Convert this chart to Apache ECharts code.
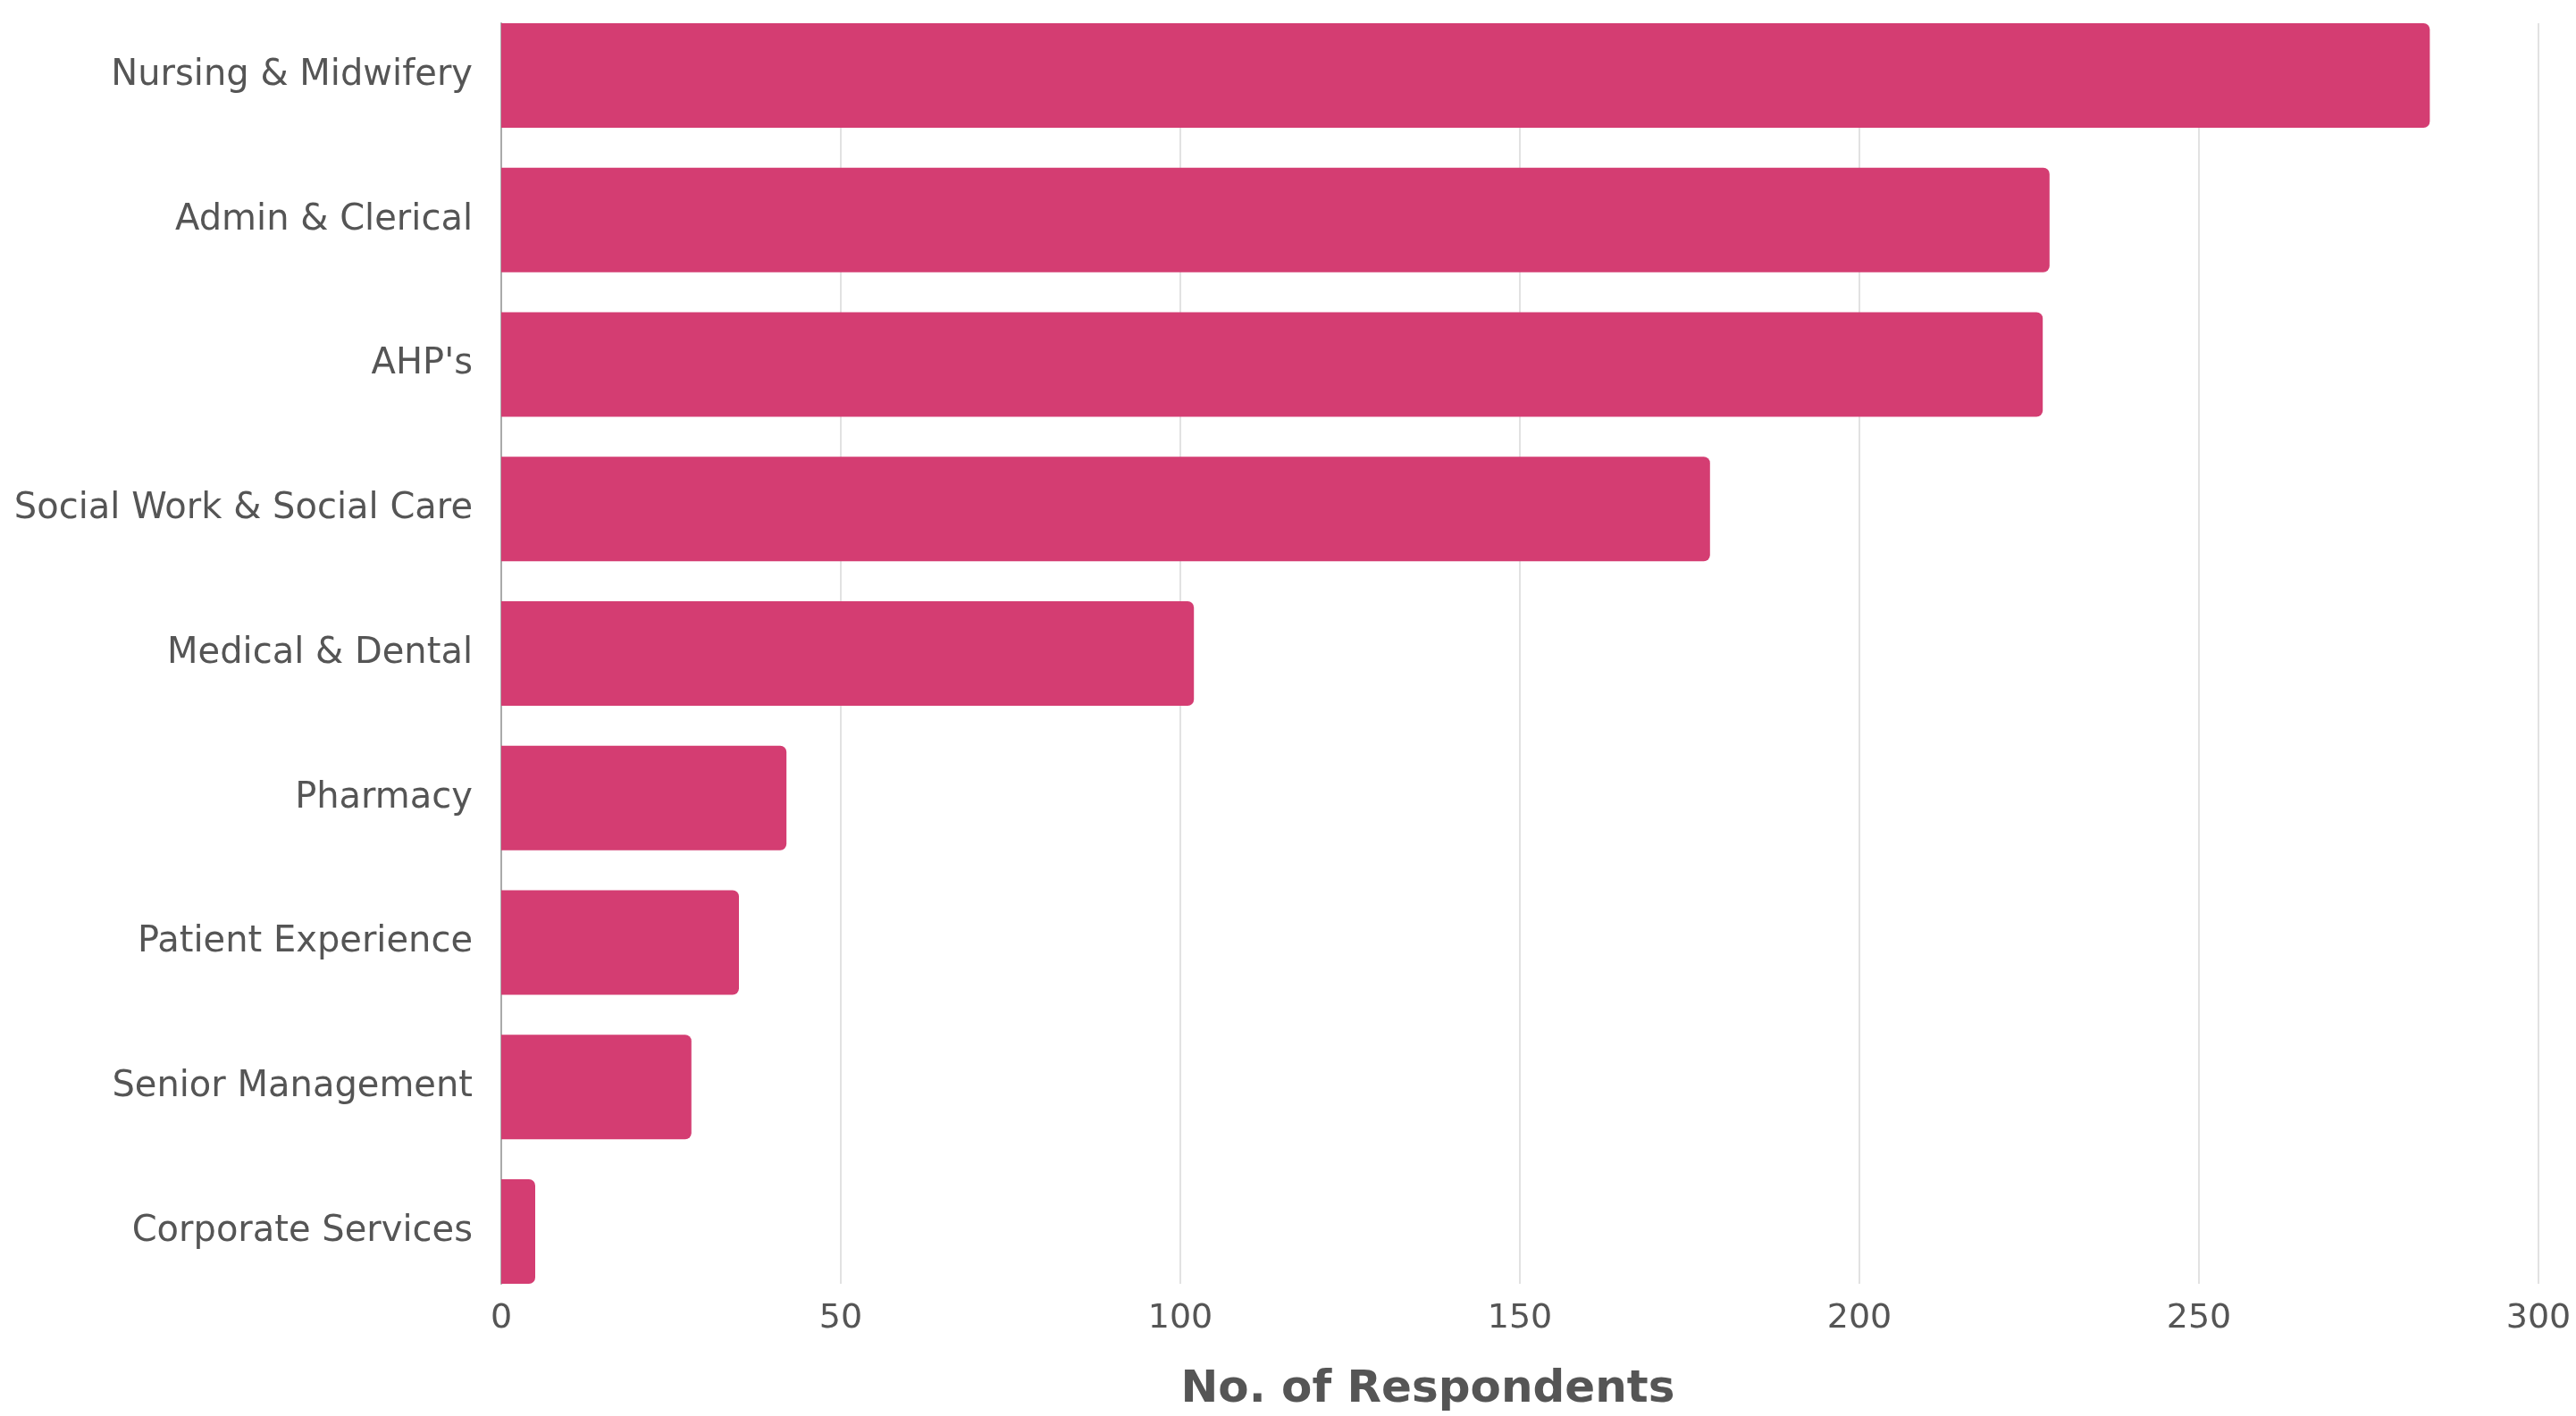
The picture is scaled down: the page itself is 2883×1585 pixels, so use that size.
<!DOCTYPE html>
<html>
<head>
<meta charset="utf-8">
<script src="https://cdn.jsdelivr.net/npm/echarts@6/dist/echarts.min.js"></script>
<style>
  html, body { margin: 0; padding: 0; background: #fff; }
  #chart { width: 2883px; height: 1585px; }
</style>
</head>
<body>
<div id="chart"></div>
<script>
// staff groups, top to bottom
const categories = [
  "Nursing & Midwifery",
  "Admin & Clerical",
  "AHP's",
  "Social Work & Social Care",
  "Medical & Dental",
  "Pharmacy",
  "Patient Experience",
  "Senior Management",
  "Corporate Services",
];
const respondents = [284, 228, 227, 178, 102, 42, 35, 28, 5];
const xTicks = { min: 0, max: 300, interval: 50 };
const axisTitle = "No. of Respondents";

const font = "DejaVu Sans";
const textColor = "#555555";

var myChart = echarts.init(document.getElementById("chart"));

myChart.setOption({
  animation: false,
  backgroundColor: "#ffffff",
  grid: [
    // bars
    { left: 561, right: 42, top: 3.6, bottom: 125.6 },
    // grid lines + y axis line, spanning first bar top to last bar bottom
    { left: 561, right: 42, top: 26, bottom: 148 },
  ],
  xAxis: [
    {
      gridIndex: 0,
      type: "value",
      min: xTicks.min,
      max: xTicks.max,
      interval: xTicks.interval,
      show: false,
    },
    {
      gridIndex: 1,
      type: "value",
      min: xTicks.min,
      max: xTicks.max,
      interval: xTicks.interval,
      axisLine: { show: false },
      axisTick: { show: false },
      splitLine: { show: true, lineStyle: { color: "#e2e2e2", width: 2 } },
      axisLabel: {
        margin: 20,
        fontFamily: font,
        fontSize: 38,
        color: textColor,
      },
    },
  ],
  yAxis: [
    {
      gridIndex: 0,
      type: "category",
      inverse: true,
      data: categories,
      axisLine: { show: false },
      axisTick: { show: false },
      splitLine: { show: false },
      axisLabel: {
        margin: 32,
        fontFamily: font,
        fontSize: 40,
        color: textColor,
      },
    },
    {
      gridIndex: 1,
      type: "value",
      axisLine: { show: true, lineStyle: { color: "#aaaaaa", width: 2 } },
      axisTick: { show: false },
      axisLabel: { show: false },
      splitLine: { show: false },
    },
  ],
  graphic: [
    {
      type: "text",
      x: 1598,
      y: 1556,
      style: {
        text: axisTitle,
        fontFamily: font,
        fontSize: 50,
        fontWeight: "bold",
        fill: textColor,
        align: "center",
        verticalAlign: "middle",
      },
    },
  ],
  series: [
    {
      type: "bar",
      xAxisIndex: 0,
      yAxisIndex: 0,
      data: respondents,
      barWidth: 117,
      itemStyle: {
        color: "#d43d72",
        borderRadius: [0, 7, 7, 0],
      },
      z: 3,
    },
  ],
});
</script>
</body>
</html>
